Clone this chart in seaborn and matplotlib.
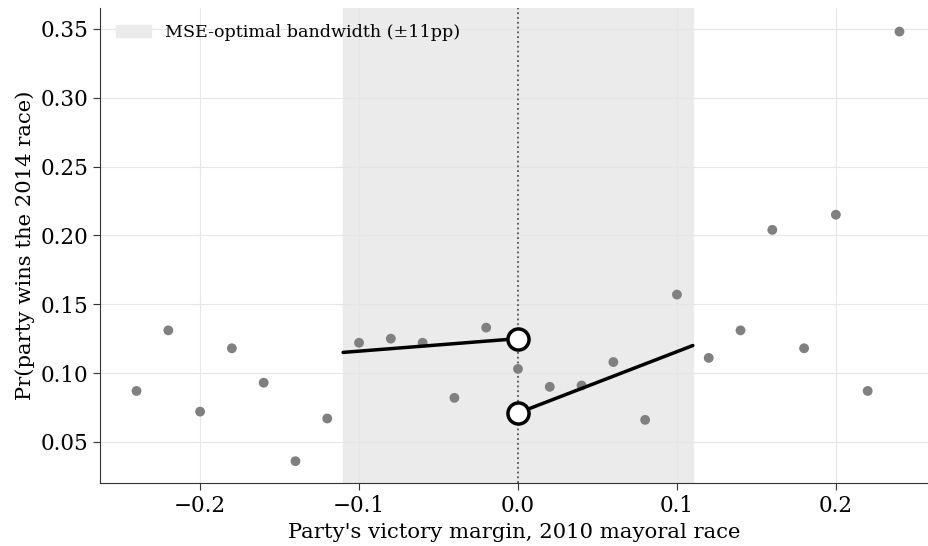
import numpy as np
import pandas as pd
import matplotlib
matplotlib.use('Agg')
import matplotlib.pyplot as plt
import seaborn as sns

# Binned means of the running variable
bin_centers = [-0.24, -0.22, -0.20, -0.18, -0.16, -0.14, -0.12, -0.10, -0.08, -0.06,
               -0.04, -0.02, 0.00, 0.02, 0.04, 0.06, 0.08, 0.10, 0.12, 0.14,
               0.16, 0.18, 0.20, 0.22, 0.24]
bin_means = [0.087, 0.131, 0.072, 0.118, 0.093, 0.036, 0.067, 0.122, 0.125, 0.122,
             0.082, 0.133, 0.103, 0.090, 0.091, 0.108, 0.066, 0.157, 0.111, 0.131,
             0.204, 0.118, 0.215, 0.087, 0.348]

# Local linear fits on each side of the cutoff
bandwidth = 0.11
left_x = [-0.11, 0.0]
left_y = [0.115, 0.125]
right_x = [0.0, 0.11]
right_y = [0.071, 0.120]

df = pd.DataFrame({'margin': bin_centers, 'win': bin_means})

sns.set_style('whitegrid')
plt.rcParams['font.family'] = ['DejaVu Serif']
plt.rcParams['text.color'] = 'black'
plt.rcParams['axes.labelcolor'] = 'black'
plt.rcParams['xtick.color'] = 'black'
plt.rcParams['ytick.color'] = 'black'

fig, ax = plt.subplots(figsize=(9.29, 5.46), dpi=100)
fig.subplots_adjust(left=0.1076, right=0.999, top=0.985, bottom=0.115)

ax.axvspan(-bandwidth, bandwidth, color='#ebebeb', zorder=0,
           label='MSE-optimal bandwidth (±11pp)')
ax.axvline(0, color='#555555', linestyle=':', linewidth=1.3, zorder=1)

sns.scatterplot(data=df, x='margin', y='win', color='gray', s=50,
                edgecolor='none', ax=ax, zorder=2)

ax.plot(left_x, left_y, color='black', linewidth=2.5, zorder=3)
ax.plot(right_x, right_y, color='black', linewidth=2.5, zorder=3)
ax.scatter([left_x[-1], right_x[0]], [left_y[-1], right_y[0]], s=230,
           facecolor='white', edgecolor='black', linewidth=2.5, zorder=4)

ax.set_xlim(-0.263, 0.258)
ax.set_ylim(0.020, 0.365)
ax.set_xticks([-0.2, -0.1, 0.0, 0.1, 0.2])
ax.set_yticks([0.05, 0.10, 0.15, 0.20, 0.25, 0.30, 0.35])
ax.set_yticklabels([f'{v:.2f}' for v in [0.05, 0.10, 0.15, 0.20, 0.25, 0.30, 0.35]])
ax.set_xticklabels(['−0.2', '−0.1', '0.0', '0.1', '0.2'])
ax.grid(color='#e6e6e6', linewidth=0.8)
ax.tick_params(labelsize=15.5, length=5, left=True, bottom=True, color='#333333')
for s in ['left', 'bottom']:
    ax.spines[s].set_color('#333333')
sns.despine(ax=ax)

ax.set_xlabel("Party's victory margin, 2010 mayoral race", fontsize=15.2)
ax.set_ylabel('Pr(party wins the 2014 race)', fontsize=15.2)
ax.legend(loc='upper left', frameon=False, fontsize=12.6)

plt.savefig('out.png', dpi=100)
